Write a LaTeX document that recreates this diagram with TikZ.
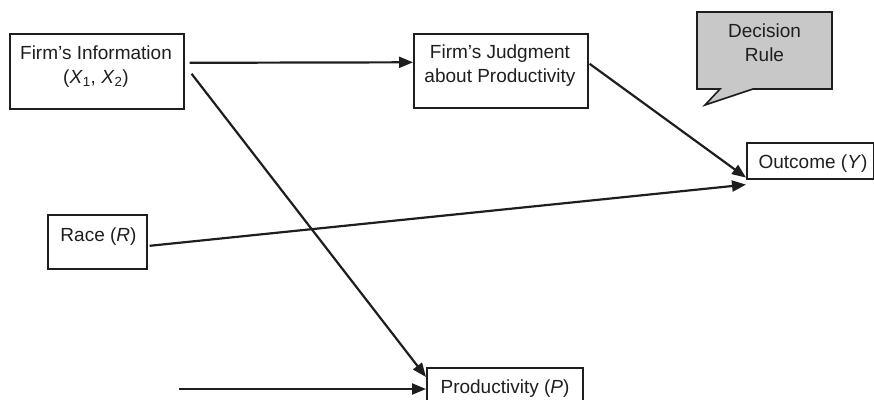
\documentclass[tikz,border=0pt]{standalone}
\usepackage{fontspec}
\setmainfont{Liberation Sans}
\usetikzlibrary{arrows.meta,calc}
\definecolor{ink}{RGB}{30,30,30}
\definecolor{callgray}{RGB}{200,200,200}
\begin{document}
\begin{tikzpicture}[x=1pt,y=-1pt,
  box/.style={draw=ink,line width=1.6pt,inner sep=0pt,anchor=north west},
  lbl/.style={text=ink,font=\fontsize{19}{23.5}\selectfont,align=center,inner sep=0pt},
  arr/.style={draw=ink,line width=2.2pt,-{Triangle[length=14pt,width=11pt]}}]
\useasboundingbox (0,0) rectangle (874,399);
\clip (0,0) rectangle (874,399);
% boxes
\node[box,minimum width=174pt,minimum height=75pt] (info) at (9,33) {};
\node[box,minimum width=174pt,minimum height=74pt] (judg) at (413,33) {};
\node[box,minimum width=127pt,minimum height=36pt] (out) at (746,142) {};
\node[box,minimum width=99pt,minimum height=54pt] (race) at (47,214) {};
\node[box,minimum width=156pt,minimum height=45pt] (prod) at (426,367) {};
% callout
\draw[draw=ink,fill=callgray,line width=1.6pt,line join=miter]
  (697,12) -- (832,12) -- (832,89) -- (753,89) -- (705,105) -- (720,89) -- (697,89) -- cycle;
% texts
\node[lbl,anchor=north] (infot) at (96,46) {Firm’s Information\\(\textit{X}\textsubscript{1}, \textit{X}\textsubscript{2})};
\node[lbl,anchor=north] (judgt) at (500,45) {Firm’s Judgment\\about Productivity};
\node[lbl,anchor=north] (dec) at (764.5,24) {Decision\\Rule};
\node[lbl,anchor=base] (outt) at (813,168.3) {Outcome (\textit{Y})};
\node[lbl,anchor=base] (racet) at (98.5,241) {Race (\textit{R})};
\node[lbl,anchor=base] (prodt) at (505,393) {Productivity (\textit{P})};
% connectors
\coordinate (pin) at (179,389);
\draw[arr] ([xshift=5pt,yshift=8.5pt]info.east) -- ([yshift=8.5pt]judg.west);
\draw[arr] ([xshift=7pt,yshift=-2.5pt]info.east) -- ([yshift=-10pt]prod.north west);
\draw[arr] ([xshift=1pt,yshift=7pt]judg.east) -- ([yshift=2pt]out.south west);
\draw[arr] ([xshift=2pt,yshift=-4pt]race.east) -- ([yshift=-5pt]out.south west);
\draw[arr] (pin) -- (pin -| prod.west);
\end{tikzpicture}
\end{document}
